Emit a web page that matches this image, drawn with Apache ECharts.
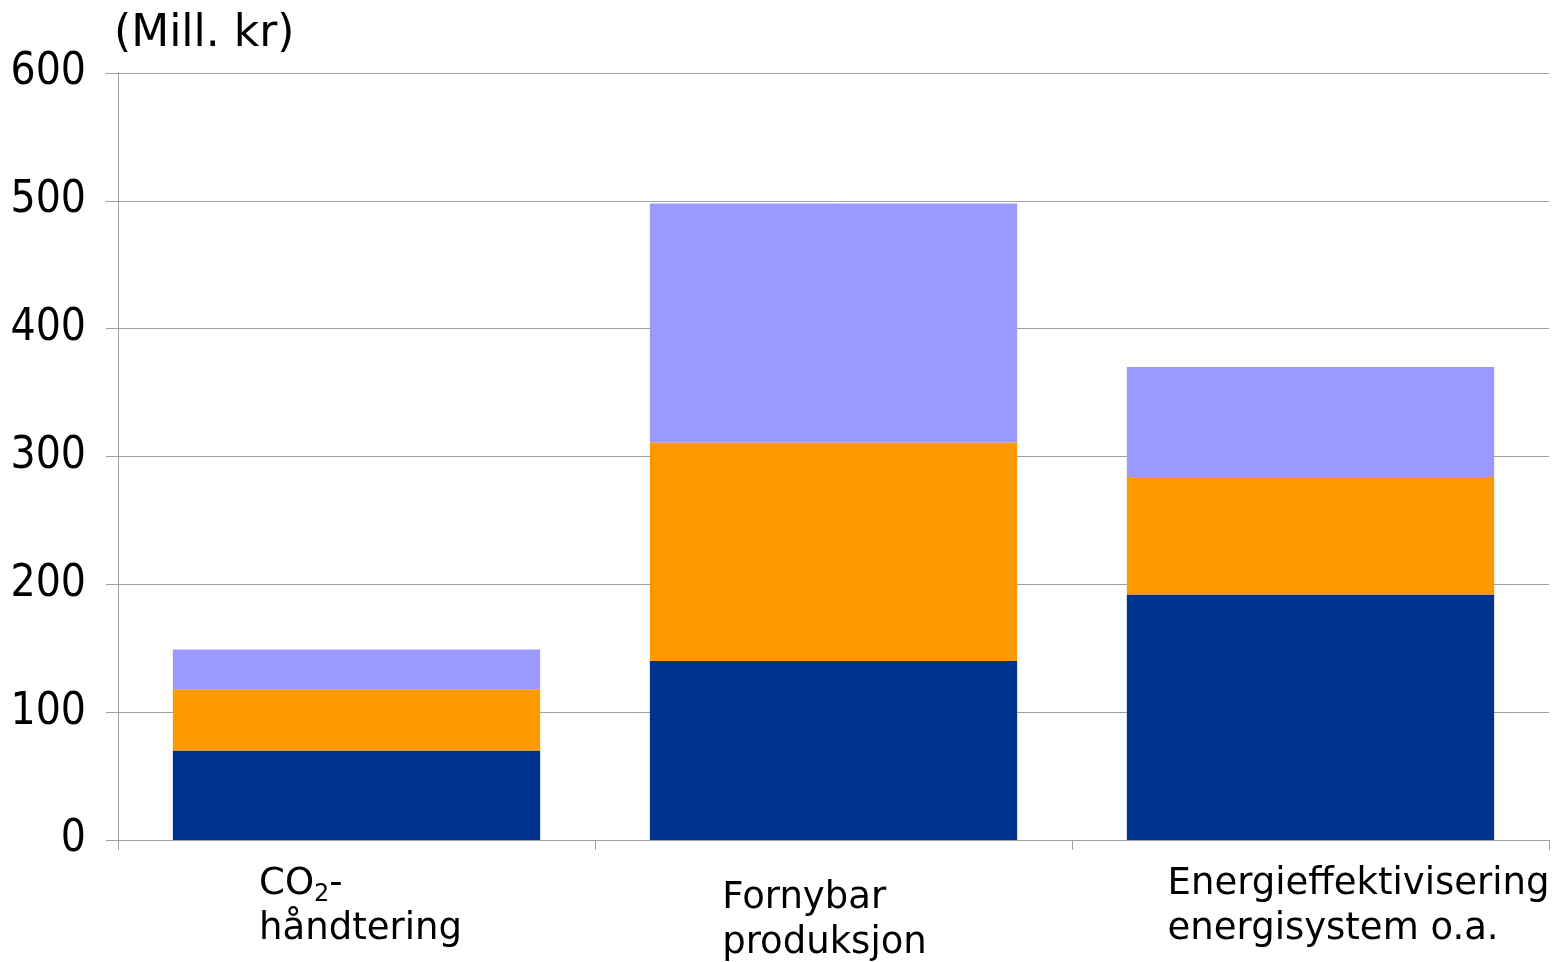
<!DOCTYPE html>
<html>
<head>
<meta charset="utf-8">
<script src="https://cdn.jsdelivr.net/npm/echarts@6/dist/echarts.min.js"></script>
<style>
  html, body { margin: 0; padding: 0; background: #ffffff; }
  #chart { width: 1555px; height: 962px; }
</style>
</head>
<body>
<div id="chart"></div>
<script>
// Categories (rich-text markup for subscript and line breaks)
const categories = [
  '{t|CO}{sub|2}{t|-}\n{t|håndtering}',
  '{t|Fornybar}\n{t|produksjon}',
  '{t|Energieffektivisering}\n{t|energisystem o.a.}'
];

// Stacked components, Mill. kr
const seriesBlue   = [70, 140, 192];
const seriesOrange = [48, 171, 92];
const seriesPurple = [31, 187, 86];

const yTicks = { min: 0, max: 600, interval: 100 };
const unitLabel = '(Mill. kr)';

const FONT = 'DejaVu Sans';
const colors = { blue: '#00338D', orange: '#FF9900', purple: '#9999FF' };

// Per-category label nudges
const labelPadding = [
  [0, 0, 0, 8],
  [14, 18, 0, 0],
  [0, 0, 0, 96]
];

const chart = echarts.init(document.getElementById('chart'), null, { renderer: 'canvas' });

const xData = categories.map((c, i) => ({
  value: c,
  textStyle: { padding: labelPadding[i] }
}));

function bar(name, data, color) {
  return {
    name: name,
    type: 'bar',
    stack: 'total',
    data: data,
    barCategoryGap: '23%',
    itemStyle: { color: color },
    emphasis: { disabled: true },
    animation: false
  };
}

chart.setOption({
  animation: false,
  grid: { left: 118, right: 6, top: 73, bottom: 122, containLabel: false },
  xAxis: {
    type: 'category',
    data: xData,
    axisLine: { show: true, lineStyle: { color: '#A0A0A0', width: 1 } },
    axisTick: { show: true, alignWithLabel: false, length: 10, lineStyle: { color: '#A0A0A0' } },
    axisLabel: {
      interval: 0,
      margin: 22,
      formatter: v => v,
      rich: {
        t: { fontFamily: FONT, fontSize: 37, lineHeight: 45, color: '#000', align: 'left' },
        sub: { fontFamily: FONT, fontSize: 24, lineHeight: 9, color: '#000', verticalAlign: 'bottom', align: 'left' }
      }
    },
    splitLine: { show: false }
  },
  yAxis: {
    type: 'value',
    min: yTicks.min,
    max: yTicks.max,
    interval: yTicks.interval,
    name: unitLabel,
    nameLocation: 'end',
    nameGap: 38,
    nameTextStyle: { fontFamily: FONT, fontSize: 44, color: '#000', align: 'left', verticalAlign: 'middle', padding: [0, 0, 0, -4] },
    axisLine: { show: true, lineStyle: { color: '#A0A0A0', width: 1 } },
    axisTick: { show: true, length: 12, lineStyle: { color: '#A0A0A0' } },
    axisLabel: { margin: 32, fontFamily: 'DejaVu Sans Condensed', fontSize: 44, color: '#000' },
    splitLine: { show: true, lineStyle: { color: '#A0A0A0', width: 1 } }
  },
  series: [
    bar('Blå', seriesBlue, colors.blue),
    bar('Oransje', seriesOrange, colors.orange),
    bar('Lilla', seriesPurple, colors.purple)
  ]
});
</script>
</body>
</html>
